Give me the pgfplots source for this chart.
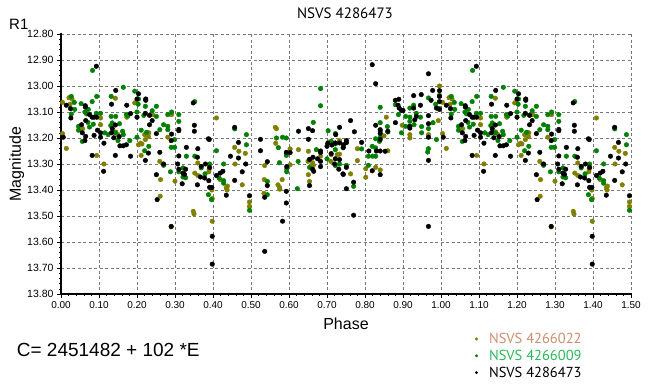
\documentclass[border=0pt]{standalone}
\usepackage{fontspec}
\setmainfont{Liberation Sans}
\newfontfamily\ptsans{PT Sans}
\usepackage{pgfplots}
\pgfplotsset{compat=1.18}
\definecolor{cOlive}{RGB}{128,128,0}
\definecolor{cGreen}{RGB}{0,128,0}
\definecolor{tTan}{RGB}{205,140,110}
\definecolor{tGreen}{RGB}{40,185,90}
\definecolor{gridgray}{RGB}{120,120,120}
\begin{document}
\begin{tikzpicture}
\path[use as bounding box] (0,0) rectangle (650bp,386bp);
\begin{axis}[
  at={(61bp,92bp)}, anchor=south west,
  scale only axis, width=570bp, height=260bp,
  xmin=0, xmax=1.5, ymin=12.8, ymax=13.8, y dir=reverse,
  xtick={0,0.1,0.2,0.3,0.4,0.5,0.6,0.7,0.8,0.9,1.0,1.1,1.2,1.3,1.4,1.5},
  ytick={12.8,12.9,13.0,13.1,13.2,13.3,13.4,13.5,13.6,13.7,13.8},
  minor x tick num=4, minor y tick num=4,
  tick align=outside, major tick length=4bp, minor tick length=2bp,
  xtick pos=bottom, ytick pos=left,
  grid=major,
  major grid style={gridgray, dash pattern=on 3bp off 2.5bp, line width=0.8bp},
  axis line style={draw=none},
  tick style={black, line width=0.6bp},
  /pgf/number format/assume math mode=true,
  xticklabel style={/pgf/number format/.cd, fixed, fixed zerofill, precision=2, /tikz/.cd, font=\fontsize{10bp}{12bp}\selectfont},
  yticklabel style={/pgf/number format/.cd, fixed, fixed zerofill, precision=2, /tikz/.cd, font=\fontsize{10.5bp}{12bp}\selectfont},
  xlabel={Phase}, ylabel={Magnitude},
  xlabel style={at={(axis description cs:0.5,0)}, anchor=base, yshift=-35bp, font=\fontsize{16bp}{18bp}\selectfont},
  ylabel style={at={(axis description cs:-0.0702,0.5)}, anchor=base, rotate=0, font=\fontsize{16bp}{18bp}\selectfont},
  legend style={at={(axis description cs:0.726,-0.142)}, anchor=north west, draw=none, fill=none, inner sep=0pt, row sep=1bp, font=\ptsans\fontsize{14.5bp}{16bp}\selectfont, /tikz/every odd column/.append style={column sep=9bp}},
  legend cell align=left,
  legend image code/.code={\fill[#1] (0bp,0bp) circle (1.3bp);},
  clip=false,
]
\addplot[only marks, mark=*, mark size=2.3bp, color=cOlive] table {
0.004 13.063
0.021 13.045
0.029 13.05
0.024 13.07
0.143 13.047
0.194 13.065
0.104 13.123
0.173 13.12
0.241 13.11
0.057 13.164
0.104 13.149
0.144 13.177
0.150 13.187
0.220 13.187
0.231 13.18
0.230 13.195
0.222 13.206
0.213 13.223
0.204 13.226
0.209 13.22
0.211 13.267
0.113 13.30
0.094 13.267
0.014 13.24
0.004 13.183
0.291 13.11
0.281 13.197
0.409 13.123
0.457 13.236
0.468 13.251
0.485 13.259
0.260 13.29
0.360 13.296
0.352 13.335
0.360 13.344
0.389 13.33
0.390 13.32
0.300 13.366
0.262 13.36
0.397 13.40
0.398 13.433
0.435 13.392
0.437 13.40
0.419 13.36
0.438 13.385
0.477 13.38
0.458 13.30
0.261 13.424
0.348 13.482
0.350 13.492
0.290 13.542
0.398 13.52
0.496 13.446
0.496 13.463
0.564 13.159
0.567 13.164
0.565 13.22
0.603 13.242
0.625 13.245
0.651 13.251
0.704 13.216
0.733 13.21
0.727 13.264
0.733 13.262
0.710 13.29
0.711 13.264
0.536 13.306
0.603 13.303
0.650 13.29
0.662 13.295
0.664 13.305
0.683 13.27
0.651 13.341
0.654 13.367
0.582 13.36
0.535 13.36
0.571 13.38
0.575 13.39
0.576 13.397
0.534 13.413
0.996 13.00
0.856 13.12
0.898 13.151
0.918 13.187
0.918 13.20
0.993 13.133
0.967 13.187
0.850 13.192
0.742 13.238
0.780 13.241
0.860 13.249
0.780 13.287
0.802 13.318
0.828 13.313
0.840 13.323
0.802 13.351
0.762 13.338
1.004 13.063
1.021 13.045
1.029 13.05
1.024 13.07
1.143 13.047
1.194 13.065
1.104 13.123
1.173 13.12
1.241 13.11
1.057 13.164
1.104 13.149
1.144 13.177
1.150 13.187
1.220 13.187
1.231 13.18
1.230 13.195
1.222 13.206
1.213 13.223
1.204 13.226
1.209 13.22
1.211 13.267
1.113 13.30
1.094 13.267
1.014 13.24
1.004 13.183
1.291 13.11
1.281 13.197
1.409 13.123
1.457 13.236
1.468 13.251
1.485 13.259
1.260 13.29
1.360 13.296
1.352 13.335
1.360 13.344
1.389 13.33
1.390 13.32
1.300 13.366
1.262 13.36
1.397 13.40
1.398 13.433
1.435 13.392
1.437 13.40
1.419 13.36
1.438 13.385
1.477 13.38
1.458 13.30
1.261 13.424
1.348 13.482
1.350 13.492
1.290 13.542
1.398 13.52
1.496 13.446
1.496 13.463
};
\addlegendentry{\textcolor{tTan}{NSVS 4266022}}
\addplot[only marks, mark=*, mark size=2.3bp, color=cGreen] table {
0.083 12.94
0.164 13.005
0.194 13.02
0.094 13.04
0.132 13.04
0.027 13.04
0.204 13.05
0.035 13.063
0.053 13.068
0.082 13.06
0.036 13.09
0.203 13.07
0.222 13.078
0.072 13.09
0.063 13.10
0.067 13.107
0.027 13.108
0.093 13.105
0.104 13.105
0.132 13.117
0.144 13.117
0.172 13.11
0.176 13.115
0.200 13.10
0.218 13.113
0.240 13.095
0.071 13.14
0.046 13.155
0.046 13.17
0.075 13.158
0.085 13.147
0.115 13.18
0.124 13.187
0.135 13.142
0.131 13.152
0.154 13.145
0.143 13.18
0.162 13.174
0.164 13.187
0.150 13.21
0.181 13.21
0.200 13.197
0.211 13.17
0.225 13.178
0.231 13.232
0.220 13.249
0.056 13.213
0.251 13.078
0.251 13.117
0.260 13.168
0.270 13.149
0.281 13.155
0.281 13.168
0.281 13.11
0.291 13.10
0.310 13.11
0.310 13.136
0.299 13.206
0.290 13.236
0.299 13.236
0.352 13.06
0.457 13.165
0.488 13.187
0.488 13.226
0.409 13.249
0.330 13.27
0.352 13.27
0.270 13.305
0.321 13.315
0.310 13.33
0.288 13.33
0.369 13.315
0.379 13.338
0.391 13.30
0.321 13.35
0.328 13.353
0.388 13.418
0.396 13.437
0.416 13.354
0.428 13.364
0.428 13.374
0.428 13.30
0.496 13.478
0.683 13.01
0.683 13.076
0.664 13.14
0.567 13.20
0.583 13.197
0.593 13.20
0.572 13.237
0.593 13.26
0.593 13.267
0.672 13.245
0.703 13.172
0.722 13.183
0.722 13.223
0.711 13.213
0.722 13.245
0.700 13.28
0.733 13.30
0.722 13.306
0.624 13.29
0.575 13.295
0.594 13.32
0.594 13.33
0.654 13.313
0.543 13.367
0.543 13.418
0.622 13.395
0.996 13.036
0.967 13.046
0.986 13.07
0.996 13.087
0.880 13.072
0.918 13.085
0.928 13.074
0.840 13.082
0.888 13.11
0.907 13.117
0.918 13.12
0.935 13.105
0.946 13.12
0.840 13.141
0.859 13.156
0.840 13.174
0.840 13.197
0.838 13.213
0.828 13.203
0.860 13.177
0.896 13.18
0.907 13.155
0.918 13.136
0.929 13.149
0.949 13.156
0.949 13.18
0.967 13.164
0.979 13.141
0.988 13.206
0.791 13.242
0.819 13.232
0.828 13.238
0.809 13.27
0.820 13.27
0.828 13.27
0.809 13.305
0.751 13.305
0.770 13.386
0.965 13.254
0.967 13.241
1.083 12.94
1.164 13.005
1.194 13.02
1.094 13.04
1.132 13.04
1.027 13.04
1.204 13.05
1.035 13.063
1.053 13.068
1.082 13.06
1.036 13.09
1.203 13.07
1.222 13.078
1.072 13.09
1.063 13.10
1.067 13.107
1.027 13.108
1.093 13.105
1.104 13.105
1.132 13.117
1.144 13.117
1.172 13.11
1.176 13.115
1.200 13.10
1.218 13.113
1.240 13.095
1.071 13.14
1.046 13.155
1.046 13.17
1.075 13.158
1.085 13.147
1.115 13.18
1.124 13.187
1.135 13.142
1.131 13.152
1.154 13.145
1.143 13.18
1.162 13.174
1.164 13.187
1.150 13.21
1.181 13.21
1.200 13.197
1.211 13.17
1.225 13.178
1.231 13.232
1.220 13.249
1.056 13.213
1.251 13.078
1.251 13.117
1.260 13.168
1.270 13.149
1.281 13.155
1.281 13.168
1.281 13.11
1.291 13.10
1.310 13.11
1.310 13.136
1.299 13.206
1.290 13.236
1.299 13.236
1.352 13.06
1.457 13.165
1.488 13.187
1.488 13.226
1.409 13.249
1.330 13.27
1.352 13.27
1.270 13.305
1.321 13.315
1.310 13.33
1.288 13.33
1.369 13.315
1.379 13.338
1.391 13.30
1.321 13.35
1.328 13.353
1.388 13.418
1.396 13.437
1.416 13.354
1.428 13.364
1.428 13.374
1.428 13.30
1.496 13.478
};
\addlegendentry{\textcolor{tGreen}{NSVS 4266009}}
\addplot[only marks, mark=*, mark size=2.3bp, color=black] table {
0.093 12.924
0.204 13.03
0.144 13.017
0.200 13.05
0.223 13.05
0.223 13.055
0.014 13.074
0.064 13.076
0.064 13.081
0.025 13.087
0.173 13.074
0.133 13.07
0.026 13.123
0.075 13.11
0.082 13.12
0.087 13.12
0.094 13.12
0.183 13.106
0.200 13.12
0.222 13.105
0.233 13.113
0.240 13.133
0.233 13.149
0.065 13.133
0.054 13.149
0.096 13.17
0.104 13.18
0.104 13.197
0.143 13.15
0.135 13.164
0.133 13.18
0.139 13.199
0.153 13.195
0.155 13.23
0.164 13.23
0.172 13.226
0.183 13.27
0.143 13.267
0.230 13.258
0.222 13.286
0.113 13.22
0.112 13.328
0.082 13.267
0.063 13.21
0.065 13.194
0.006 13.197
0.056 13.18
0.087 13.19
0.251 13.183
0.310 13.167
0.310 13.172
0.291 13.185
0.290 13.21
0.348 13.065
0.351 13.151
0.351 13.174
0.388 13.203
0.390 13.206
0.457 13.159
0.467 13.217
0.330 13.236
0.360 13.241
0.260 13.255
0.310 13.269
0.359 13.274
0.307 13.30
0.270 13.30
0.310 13.32
0.328 13.32
0.321 13.335
0.325 13.34
0.369 13.309
0.380 13.30
0.391 13.313
0.367 13.35
0.378 13.354
0.389 13.364
0.359 13.38
0.319 13.376
0.251 13.341
0.391 13.39
0.397 13.39
0.435 13.42
0.409 13.344
0.426 13.328
0.419 13.335
0.457 13.363
0.446 13.27
0.467 13.277
0.477 13.33
0.486 13.30
0.253 13.437
0.290 13.54
0.398 13.578
0.398 13.685
0.496 13.422
0.525 13.205
0.651 13.164
0.662 13.172
0.625 13.174
0.525 13.249
0.593 13.255
0.603 13.256
0.651 13.205
0.683 13.25
0.683 13.256
0.702 13.22
0.700 13.232
0.713 13.227
0.723 13.187
0.722 13.219
0.733 13.159
0.733 13.219
0.743 13.226
0.743 13.236
0.711 13.26
0.722 13.28
0.733 13.283
0.731 13.32
0.720 13.30
0.743 13.34
0.543 13.291
0.594 13.31
0.654 13.282
0.663 13.274
0.675 13.28
0.662 13.32
0.665 13.328
0.683 13.29
0.683 13.31
0.654 13.383
0.543 13.383
0.536 13.428
0.593 13.405
0.593 13.45
0.583 13.52
0.536 13.636
0.819 12.918
0.828 12.991
0.967 12.953
0.978 13.017
0.996 13.018
0.996 13.04
0.948 13.033
0.928 13.037
0.974 13.055
0.996 13.06
0.988 13.085
0.996 13.09
0.880 13.055
0.889 13.051
0.887 13.074
0.890 13.085
0.896 13.094
0.900 13.094
0.928 13.085
0.946 13.074
0.935 13.117
0.931 13.13
0.918 13.155
0.918 13.162
0.967 13.114
0.967 13.145
0.828 13.151
0.840 13.168
0.840 13.182
0.840 13.206
0.860 13.174
0.880 13.141
0.967 13.197
0.762 13.133
0.772 13.176
0.751 13.21
0.751 13.218
0.791 13.217
0.810 13.25
0.830 13.25
0.840 13.25
0.853 13.251
0.819 13.326
0.840 13.341
0.742 13.338
0.751 13.313
0.770 13.37
0.751 13.395
0.770 13.497
0.967 13.54
0.967 13.286
1.093 12.924
1.204 13.03
1.144 13.017
1.200 13.05
1.223 13.05
1.223 13.055
1.014 13.074
1.064 13.076
1.064 13.081
1.025 13.087
1.173 13.074
1.133 13.07
1.026 13.123
1.075 13.11
1.082 13.12
1.087 13.12
1.094 13.12
1.183 13.106
1.200 13.12
1.222 13.105
1.233 13.113
1.240 13.133
1.233 13.149
1.065 13.133
1.054 13.149
1.096 13.17
1.104 13.18
1.104 13.197
1.143 13.15
1.135 13.164
1.133 13.18
1.139 13.199
1.153 13.195
1.155 13.23
1.164 13.23
1.172 13.226
1.183 13.27
1.143 13.267
1.230 13.258
1.222 13.286
1.113 13.22
1.112 13.328
1.082 13.267
1.063 13.21
1.065 13.194
1.006 13.197
1.056 13.18
1.087 13.19
1.251 13.183
1.310 13.167
1.310 13.172
1.291 13.185
1.290 13.21
1.348 13.065
1.351 13.151
1.351 13.174
1.388 13.203
1.390 13.206
1.457 13.159
1.467 13.217
1.330 13.236
1.360 13.241
1.260 13.255
1.310 13.269
1.359 13.274
1.307 13.30
1.270 13.30
1.310 13.32
1.328 13.32
1.321 13.335
1.325 13.34
1.369 13.309
1.380 13.30
1.391 13.313
1.367 13.35
1.378 13.354
1.389 13.364
1.359 13.38
1.319 13.376
1.251 13.341
1.391 13.39
1.397 13.39
1.435 13.42
1.409 13.344
1.426 13.328
1.419 13.335
1.457 13.363
1.446 13.27
1.467 13.277
1.477 13.33
1.486 13.30
1.253 13.437
1.290 13.54
1.398 13.578
1.398 13.685
1.496 13.422
};
\addlegendentry{NSVS 4286473}
\draw[line width=2.2bp, line cap=rect] (axis description cs:0,1) -- (axis description cs:0,0) -- (axis description cs:1,0);
\end{axis}
\node[anchor=base, font=\ptsans\fontsize{15bp}{17bp}\selectfont] at (345bp,367bp) {NSVS 4286473};
\node[anchor=base west, inner sep=0pt, font=\fontsize{15bp}{17bp}\selectfont] at (9bp,356bp) {R1};
\node[anchor=base west, inner sep=0pt, font=\fontsize{19bp}{21bp}\selectfont] at (16.7bp,30bp) {C= 2451482 + 102 *E};
\end{tikzpicture}
\end{document}
